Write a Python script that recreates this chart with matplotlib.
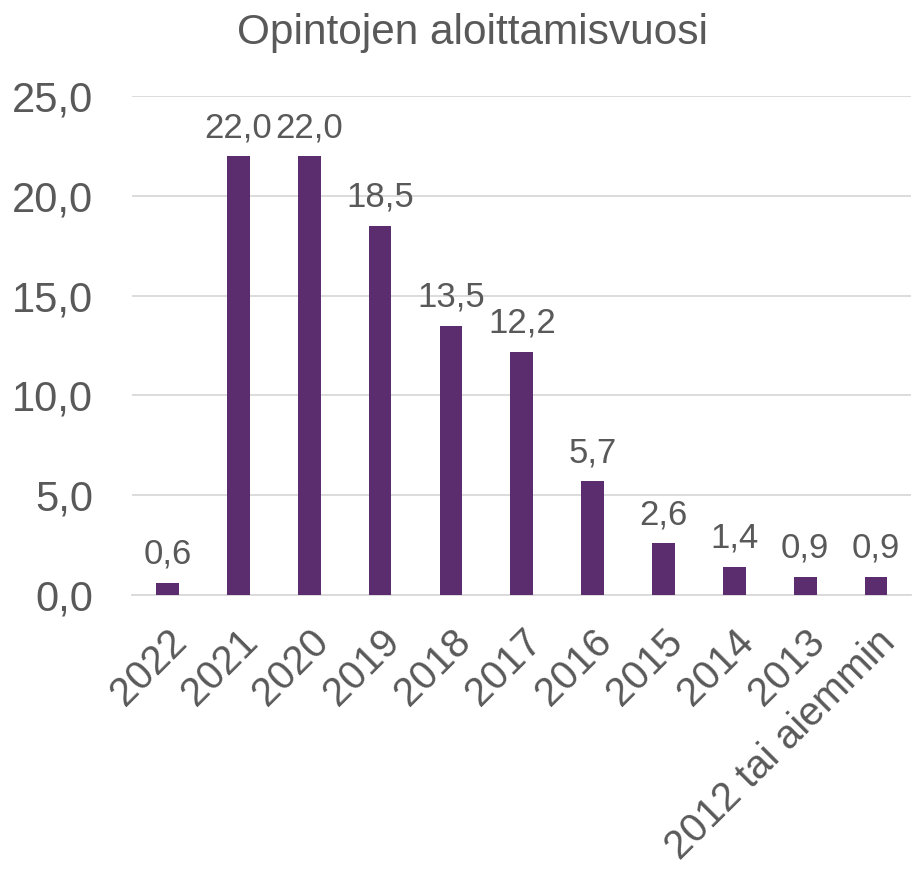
import numpy as np
import matplotlib.pyplot as plt

plt.rcParams['font.family'] = ['Liberation Sans', 'DejaVu Sans']

categories = ['2022', '2021', '2020', '2019', '2018', '2017', '2016', '2015',
              '2014', '2013', '2012 tai aiemmin']
values = [0.6, 22.0, 22.0, 18.5, 13.5, 12.2, 5.7, 2.6, 1.4, 0.9, 0.9]

text_color = '#595959'
bar_color = '#5C2D6E'

fig = plt.figure(figsize=(9.17, 8.76), dpi=100)
ax = fig.add_axes([0.144, 0.321, 0.850, 0.569])

x = np.arange(len(categories))
ax.bar(x, values, width=0.32, color=bar_color, zorder=3)

for xi, v in zip(x, values):
    ax.text(xi, v + 0.6, f'{v:.1f}'.replace('.', ','), ha='center', va='bottom',
            fontsize=25, color=text_color)

ax.set_xlim(-0.5, len(categories) - 0.5)
ax.set_ylim(0, 25)
ax.set_yticks(np.arange(0, 26, 5))
ax.set_yticklabels([f'{t:.1f}'.replace('.', ',') for t in np.arange(0, 26, 5)])
ax.set_xticks(x)
ax.set_xticklabels(categories, rotation=45, ha='right', rotation_mode='anchor')

ax.tick_params(axis='y', length=0, labelsize=30, labelcolor=text_color, pad=28)
ax.tick_params(axis='x', length=0, labelsize=29, labelcolor=text_color, pad=20)
ax.grid(axis='y', color='#D9D9D9', linewidth=1.3, zorder=0)
for s in ['top', 'right', 'left']:
    ax.spines[s].set_visible(False)
ax.spines['bottom'].set_color('#D9D9D9')
ax.spines['bottom'].set_linewidth(1.3)

fig.text(0.515, 0.962, 'Opintojen aloittamisvuosi', ha='center', va='center',
         fontsize=30.5, color=text_color)

fig.savefig('out.png', dpi=100)
